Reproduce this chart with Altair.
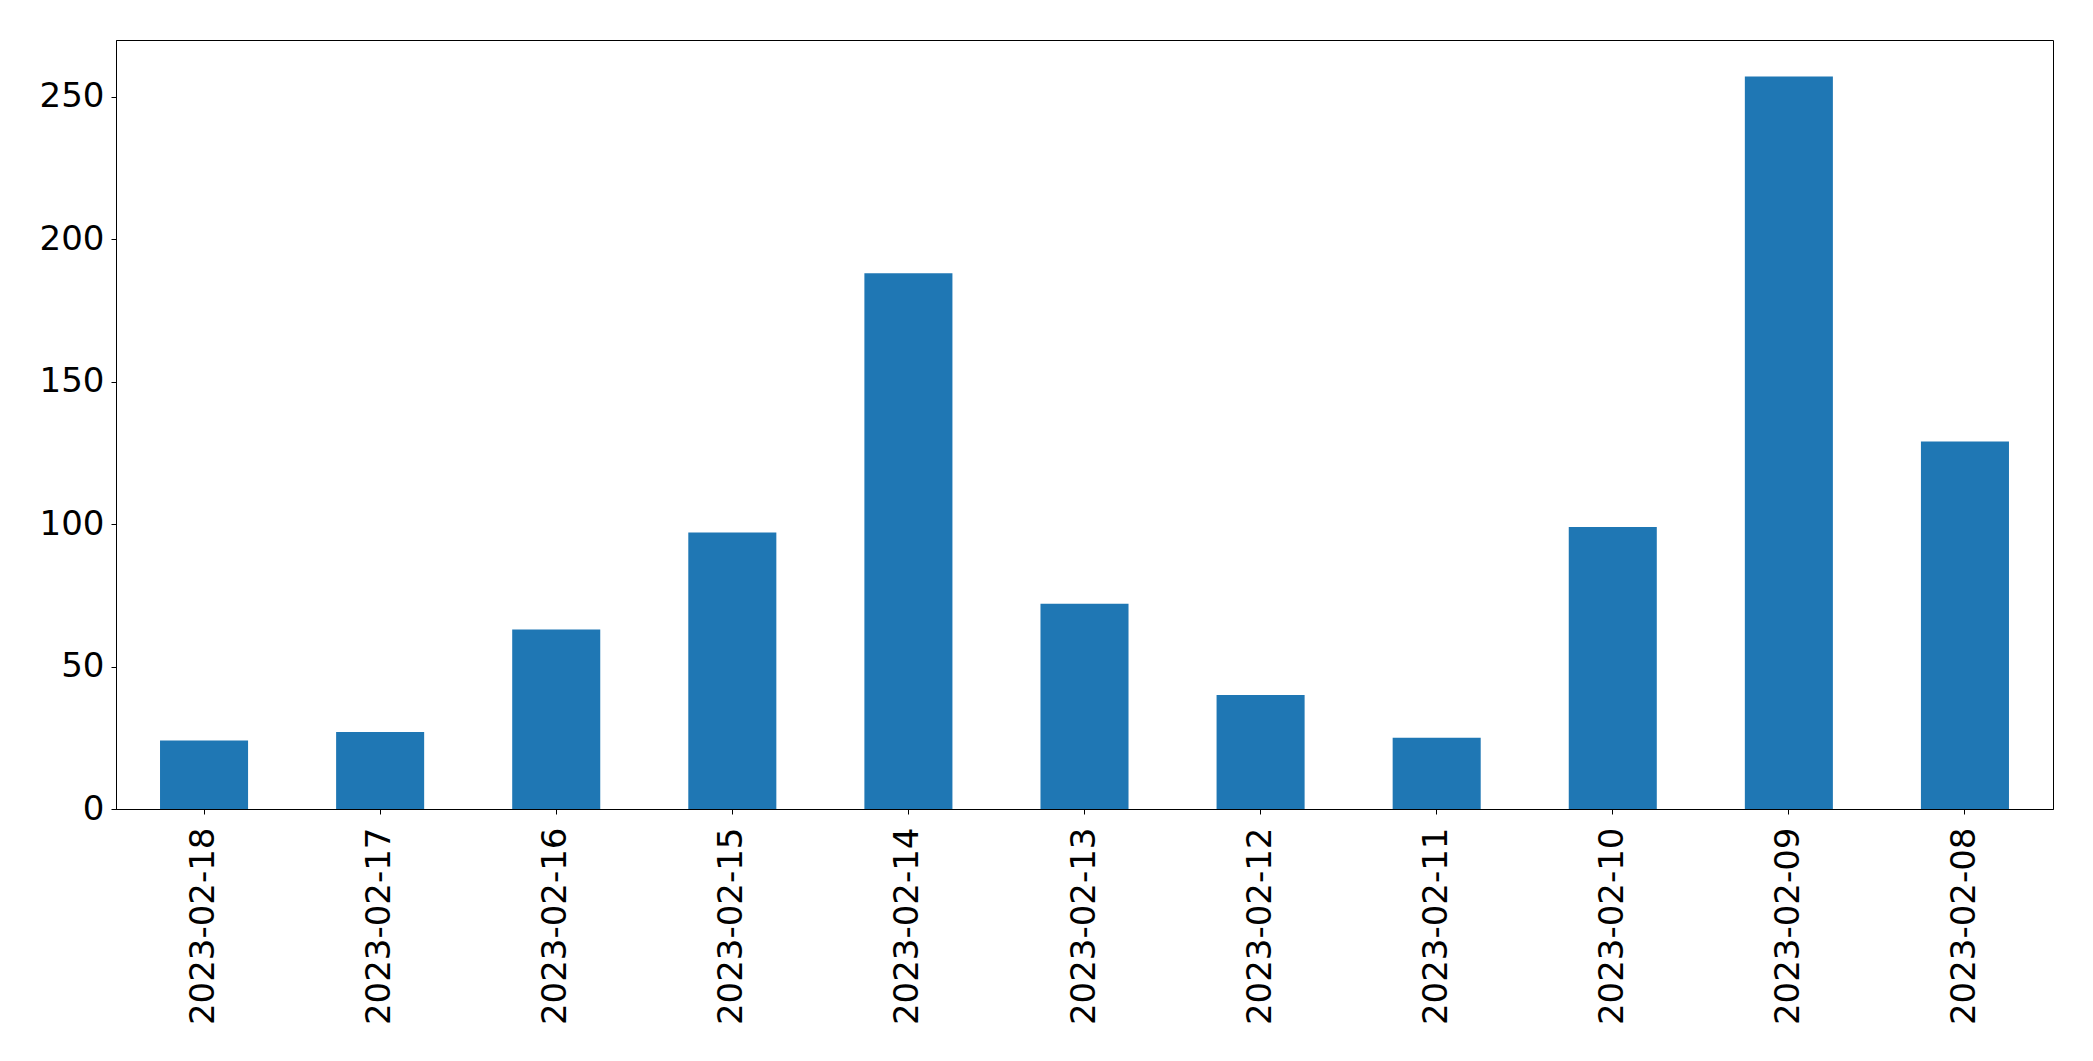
import altair as alt
import pandas as pd

dates = ["2023-02-18", "2023-02-17", "2023-02-16", "2023-02-15", "2023-02-14",
         "2023-02-13", "2023-02-12", "2023-02-11", "2023-02-10", "2023-02-09", "2023-02-08"]
counts = [24, 27, 63, 97, 188, 72, 40, 25, 99, 257, 129]

df = pd.DataFrame({"date": dates, "count": counts})

chart = alt.Chart(df).mark_bar(color="#1f77b4").encode(
    x=alt.X("date:N", sort=dates, title=None,
            scale=alt.Scale(paddingInner=0.5, paddingOuter=0.25),
            axis=alt.Axis(labelAngle=-90, labelFontSize=34, labelPadding=13,
                          labelLimit=0, tickSize=5, labelFont="DejaVu Sans",
                          labelColor="black", domainColor="black", tickColor="black")),
    y=alt.Y("count:Q", title=None,
            scale=alt.Scale(domain=[0, 269.85], nice=False, zero=True),
            axis=alt.Axis(values=[0, 50, 100, 150, 200, 250], labelFontSize=34,
                          labelPadding=7, tickSize=5, labelFont="DejaVu Sans",
                          labelColor="black", domainColor="black", tickColor="black",
                          grid=False)),
).properties(
    width=1937, height=769,
    autosize=alt.AutoSizeParams(type="none"),
    padding={"left": 108, "top": 32, "right": 32, "bottom": 240},
).configure_view(stroke="black", strokeWidth=1).configure_axis(domainWidth=1, tickWidth=1)

chart.save("out.html", embed_options={"renderer": "svg", "actions": False})
